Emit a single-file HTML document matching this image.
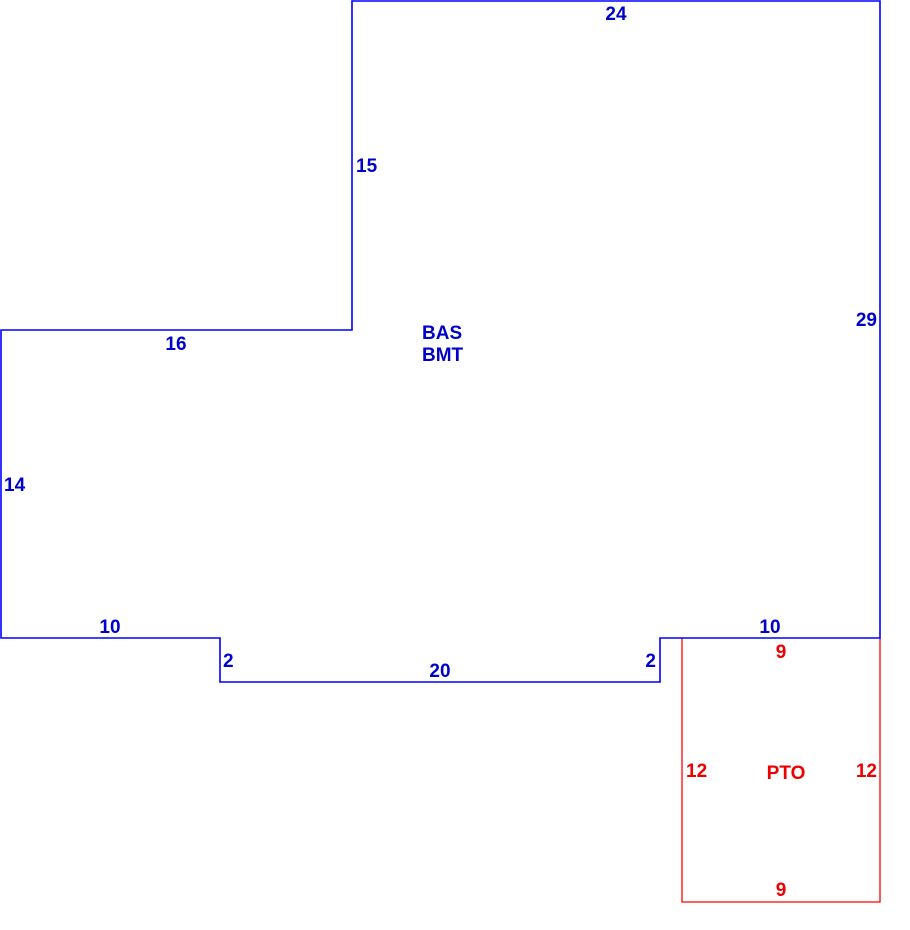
<!DOCTYPE html>
<html><head><meta charset="utf-8"><style>
html,body{margin:0;padding:0;background:#fff;width:910px;height:930px;overflow:hidden}
svg text{font-family:"Liberation Sans",Arial,sans-serif;font-weight:bold;font-size:19px}
</style></head><body>
<svg width="910" height="930" viewBox="0 0 910 930" xmlns="http://www.w3.org/2000/svg">
<polyline fill="none" stroke="#ff0000" stroke-width="1.3" points="682,638 682,902 880,902 880,638"/>
<polygon fill="none" stroke="#0000ff" stroke-width="1.6" points="352,1 880,1 880,638 660,638 660,682 220,682 220,638 1,638 1,330 352,330"/>
<g fill="#0000cc">
<text x="616" y="20" text-anchor="middle">24</text>
<text x="356" y="172">15</text>
<text x="877" y="326" text-anchor="end">29</text>
<text x="176" y="350" text-anchor="middle">16</text>
<text x="4" y="491">14</text>
<text x="110" y="633" text-anchor="middle">10</text>
<text x="770" y="633" text-anchor="middle">10</text>
<text x="223" y="667">2</text>
<text x="656" y="667" text-anchor="end">2</text>
<text x="440" y="677" text-anchor="middle">20</text>
<text x="422" y="339">BAS</text>
<text x="422" y="361">BMT</text>
</g>
<g fill="#ee0000">
<text x="781" y="658" text-anchor="middle">9</text>
<text x="781" y="896" text-anchor="middle">9</text>
<text x="686" y="777">12</text>
<text x="877" y="777" text-anchor="end">12</text>
<text x="786" y="779" text-anchor="middle">PTO</text>
</g>
</svg>
</body></html>
